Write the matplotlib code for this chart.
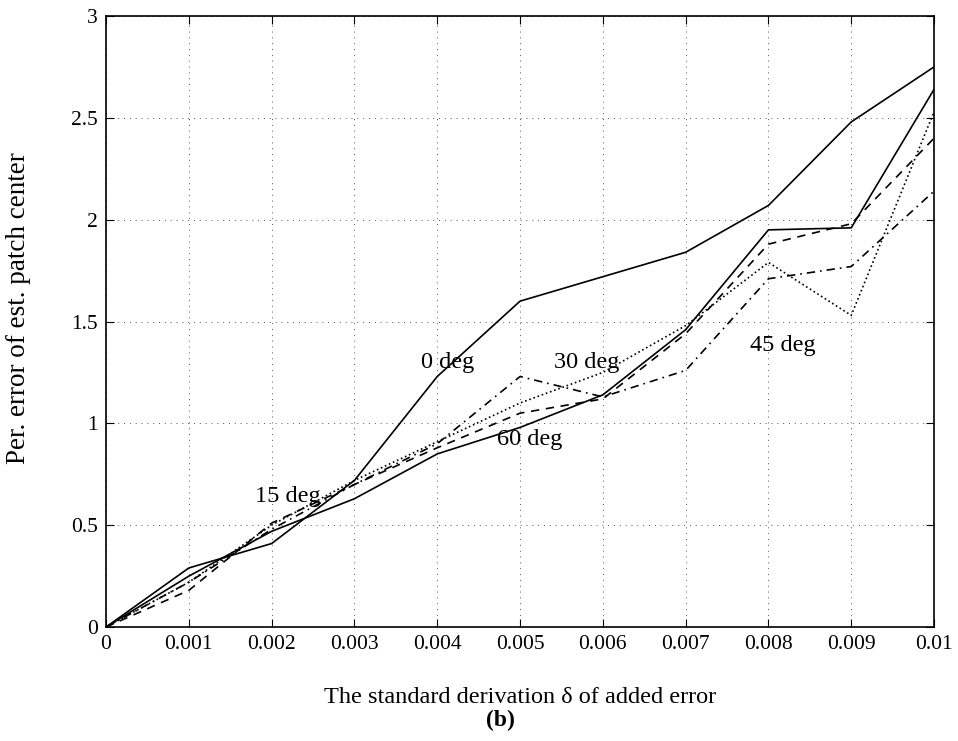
import matplotlib
matplotlib.use("Agg")
import matplotlib.pyplot as plt
import numpy as np

sigma = [0, 0.001, 0.002, 0.003, 0.004, 0.005, 0.006, 0.007, 0.008, 0.009, 0.01]
err_0deg = [0, 0.29, 0.41, 0.72, 1.23, 1.60, 1.72, 1.84, 2.07, 2.48, 2.75]
err_15deg = [0, 0.22, 0.50, 0.72, 0.91, 1.10, 1.25, 1.48, 1.79, 1.53, 2.53]
err_30deg = [0, 0.18, 0.51, 0.70, 0.88, 1.05, 1.12, 1.44, 1.88, 1.98, 2.40]
err_45deg = [0, 0.22, 0.48, 0.70, 0.90, 1.23, 1.13, 1.26, 1.71, 1.77, 2.14]
err_60deg = [0, 0.25, 0.47, 0.63, 0.85, 0.98, 1.14, 1.46, 1.95, 1.96, 2.64]
xticks = [0, 0.001, 0.002, 0.003, 0.004, 0.005, 0.006, 0.007, 0.008, 0.009, 0.01]
xticklabels = ["0", "0.001", "0.002", "0.003", "0.004", "0.005", "0.006", "0.007", "0.008", "0.009", "0.01"]
yticks = [0, 0.5, 1, 1.5, 2, 2.5, 3]
yticklabels = ["0", "0.5", "1", "1.5", "2", "2.5", "3"]

plt.rcParams['font.family'] = ['Liberation Serif', 'DejaVu Serif']

fig = plt.figure(figsize=(9.58, 7.41), dpi=100)
ax = fig.add_axes([0.1107, 0.1538, 0.8643, 0.8246])

lw = 1.2
ax.plot(sigma, err_0deg, color='black', linestyle='-', linewidth=lw)
ax.plot(sigma, err_15deg, color='black', linestyle=':', linewidth=lw)
ax.plot(sigma, err_30deg, color='black', linestyle=(0, (5, 4)), linewidth=lw)
ax.plot(sigma, err_45deg, color='black', linestyle=(0, (5, 3, 1, 3)), linewidth=lw)
ax.plot(sigma, err_60deg, color='black', linestyle='-', linewidth=lw)

ax.set_xlim(0, 0.01)
ax.set_ylim(0, 3)
ax.set_xticks(xticks)
ax.set_xticklabels(xticklabels)
ax.set_yticks(yticks)
ax.set_yticklabels(yticklabels)
ax.tick_params(direction='in', length=6, labelsize=15.5, top=True, right=True, pad=6)
ax.grid(True, linestyle=(0, (1, 5)), color='#555555', linewidth=0.7)
for s in ax.spines.values():
    s.set_linewidth(1.2)

fs = 17.5
ax.text(0.00412, 1.30, "0 deg", fontsize=fs, ha='center', va='center')
ax.text(0.00580, 1.30, "30 deg", fontsize=fs, ha='center', va='center')
ax.text(0.00817, 1.38, "45 deg", fontsize=fs, ha='center', va='center')
ax.text(0.00512, 0.92, "60 deg", fontsize=fs, ha='center', va='center')
ax.text(0.00220, 0.64, "15 deg", fontsize=fs, ha='center', va='center')

fig.text(0.019, 0.584, "Per. error of est. patch center", fontsize=19.5, rotation=90,
         ha='center', va='center')
fig.text(0.543, 0.059, "The standard derivation δ of added error", fontsize=17.5, ha='center', va='center')
fig.text(0.522, 0.028, "(b)", fontsize=17, ha='center', va='center', fontweight='bold')

fig.savefig("out.png", dpi=100)
